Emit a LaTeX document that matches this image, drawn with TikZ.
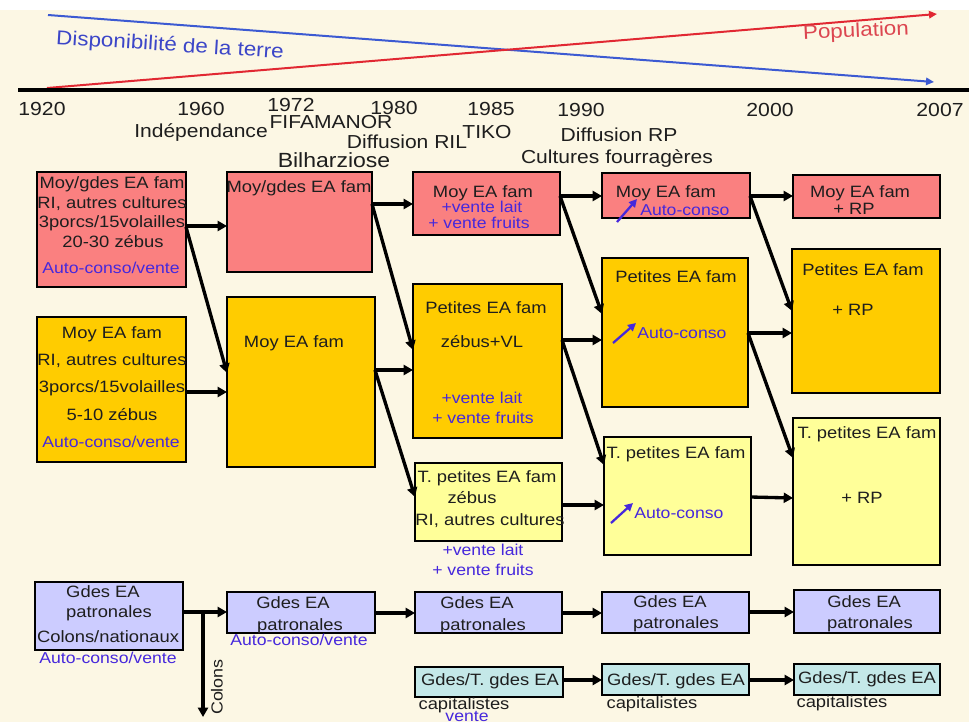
\documentclass[tikz,border=0pt]{standalone}
\usepackage{fontspec}
\setmainfont{Liberation Sans}[FakeStretch=1.12]
\usetikzlibrary{arrows.meta,fit,calc}
\definecolor{bgc}{RGB}{252,247,228}
\definecolor{pinkc}{RGB}{250,128,128}
\definecolor{orangec}{RGB}{255,204,0}
\definecolor{yellowc}{RGB}{255,255,153}
\definecolor{lavc}{RGB}{204,204,255}
\definecolor{tealc}{RGB}{196,232,232}
\definecolor{bluet}{RGB}{70,40,220}
\definecolor{dispc}{RGB}{60,70,200}
\definecolor{linered}{RGB}{225,40,50}
\definecolor{lineblue}{RGB}{60,90,210}
\definecolor{popc}{RGB}{220,70,80}
\definecolor{inkc}{RGB}{30,30,30}
\begin{document}
\begin{tikzpicture}[x=0.75pt,y=-0.75pt,
  bx/.style={draw=black, line width=1.4pt, inner sep=0pt, outer sep=0pt},
  tt/.style={inner sep=0pt, text=inkc, font=\fontsize{12.3}{14}\selectfont, text height=8.8pt, text depth=0pt},
  tb/.style={tt, text=bluet, font=\fontsize{11.8}{14}\selectfont, text height=8.5pt},
  yr/.style={inner sep=0pt, text=inkc, font=\fontsize{14.2}{16}\selectfont, text height=10.2pt, text depth=0pt},
  ev/.style={inner sep=0pt, text=inkc, font=\fontsize{14.1}{16}\selectfont, text height=10.1pt, text depth=0pt},
  arr/.style={line width=2.5pt, -{Triangle[length=7pt,width=7.5pt]}},
  trend/.style={line width=1.5pt},
  ico/.style={line width=1.7pt, draw=bluet, -{Triangle[length=6pt,width=6pt,fill=bluet]}},
]
\useasboundingbox (0,0) rectangle (969,722);
\clip (0,0) rectangle (969,722);
\fill[bgc] (0,0) rectangle (969,722);
\fill[white] (0,0) rectangle (969,10);

% ---- trend lines ----
\coordinate (bs) at (48,15);
\coordinate (be) at (934,82);
\coordinate (rs) at (47,88);
\coordinate (re) at (937,14);
\draw[trend, draw=lineblue, -{Triangle[length=6pt,width=5.5pt,fill=lineblue]}] (bs) -- (be);
\draw[trend, draw=linered, -{Triangle[length=6pt,width=5.5pt,fill=linered]}] (rs) -- (re);
\node[inner sep=0pt, text=dispc, font=\fontsize{15}{17}\selectfont, rotate=-3.6] (disp) at (170,46) {Disponibilité de la terre};
\node[inner sep=0pt, text=popc, font=\fontsize{15}{17}\selectfont, rotate=2.6] (pop) at (856,32) {Population};

% ---- time axis ----
\coordinate (ax1) at (18,90);
\coordinate (ax2) at (969,90);
\draw[line width=2.6pt, black] (ax1) -- (ax2);

\node[yr] (y1920) at (42,109) {1920};
\node[yr] (y1960) at (201,109) {1960};
\node[yr] (y1972) at (291,105) {1972};
\node[yr] (y1980) at (394,108) {1980};
\node[yr] (y1985) at (491,109) {1985};
\node[yr] (y1990) at (581,110) {1990};
\node[yr] (y2000) at (770,110) {2000};
\node[yr] (y2007) at (940,110) {2007};

\node[ev] (indep) at (201,131) {Indépendance};
\node[ev] (fifa) at (331,122) {FIFAMANOR};
\node[ev] (ril) at (407,142) {Diffusion RIL};
\node[ev] (tiko) at (487,132) {TIKO};
\node[ev] (drp) at (619,135) {Diffusion RP};
\node[ev] (cfour) at (617,157) {Cultures fourragères};
\node[inner sep=0pt, text=inkc, font=\fontsize{15.4}{17}\selectfont, text height=11pt, text depth=0pt] (bilh) at (334,160) {Bilharziose};

% ---- boxes ----
\node[bx, fill=pinkc,   fit={(37,172)(186,287)}] (A1) {};
\node[bx, fill=orangec, fit={(37,317)(186,462)}] (A2) {};
\node[bx, fill=pinkc,   fit={(227,172)(372,272)}] (B1) {};
\node[bx, fill=orangec, fit={(227,297)(375,467)}] (B2) {};
\node[bx, fill=pinkc,   fit={(413,172)(560,235)}] (C1) {};
\node[bx, fill=orangec, fit={(413,284)(562,438)}] (C2) {};
\node[bx, fill=yellowc, fit={(415,463)(562,541)}] (C3) {};
\node[bx, fill=pinkc,   fit={(602,173)(750,218)}] (D1) {};
\node[bx, fill=orangec, fit={(602,258)(748,407)}] (D2) {};
\node[bx, fill=yellowc, fit={(604,437)(751,555)}] (D3) {};
\node[bx, fill=pinkc,   fit={(793,175)(940,218)}] (E1) {};
\node[bx, fill=orangec, fit={(792,249)(940,393)}] (E2) {};
\node[bx, fill=yellowc, fit={(793,418)(940,565)}] (E3) {};
\node[bx, fill=lavc,    fit={(35,582)(183,650)}] (F0) {};
\node[bx, fill=lavc,    fit={(227,592)(375,633)}] (F1) {};
\node[bx, fill=lavc,    fit={(415,592)(562,633)}] (F2) {};
\node[bx, fill=lavc,    fit={(602,592)(749,633)}] (F3) {};
\node[bx, fill=lavc,    fit={(794,590)(940,633)}] (F4) {};
\node[bx, fill=tealc,   fit={(415,667)(563,697)}] (G2) {};
\node[bx, fill=tealc,   fit={(602,664)(749,695)}] (G3) {};
\node[bx, fill=tealc,   fit={(794,664)(940,695)}] (G4) {};

% ---- texts ----
\node[tt] (a1a) at (112,183) {Moy/gdes EA fam};
\node[tt] (a1b) at (112,203) {RI, autres cultures};
\node[tt] (a1c) at (112,222) {3porcs/15volailles};
\node[tt] (a1d) at (113,242) {20-30 zébus};
\node[tb] (a1e) at (111,268) {Auto-conso/vente};

\node[tt] (a2a) at (112,333) {Moy EA fam};
\node[tt] (a2b) at (112,360) {RI, autres cultures};
\node[tt] (a2c) at (112,387) {3porcs/15volailles};
\node[tt] (a2d) at (112,415) {5-10 zébus};
\node[tb] (a2e) at (111,442) {Auto-conso/vente};

\node[tt] (b1a) at (299,187) {Moy/gdes EA fam};
\node[tt] (b2a) at (294,342) {Moy EA fam};

\node[tt] (c1a) at (483,192) {Moy EA fam};
\node[tb] (c1b) at (482,207) {+vente lait};
\node[tb] (c1c) at (479,223) {+ vente fruits};

\node[tt] (c2a) at (486,308) {Petites EA fam};
\node[tt] (c2b) at (482,342) {zébus+VL};
\node[tb] (c2c) at (482,398) {+vente lait};
\node[tb] (c2d) at (483,418) {+ vente fruits};

\node[tt] (c3a) at (487,477) {T. petites EA fam};
\node[tt] (c3b) at (472,498) {zébus};
\node[tt] (c3c) at (490,520) {RI, autres cultures};
\node[tb] (c3d) at (483,550) {+vente lait};
\node[tb] (c3e) at (483,570) {+ vente fruits};

\node[tt] (d1a) at (666,192) {Moy EA fam};
\node[tb, anchor=west] (d1b) at (640,210) {Auto-conso};
\node[tt] (d2a) at (676,277) {Petites EA fam};
\node[tb, anchor=west] (d2b) at (637,333) {Auto-conso};
\node[tt] (d3a) at (676,453) {T. petites EA fam};
\node[tb, anchor=west] (d3b) at (634,513) {Auto-conso};

\draw[ico] ($(d1b.west)+(-23,12)$) -- ($(d1b.west)+(-3,-11)$);
\draw[ico] ($(d2b.west)+(-24,10)$) -- ($(d2b.west)+(-1,-10)$);
\draw[ico] ($(d3b.west)+(-23,10)$) -- ($(d3b.west)+(-1,-10)$);

\node[tt] (e1a) at (860,192) {Moy EA fam};
\node[tt] (e1b) at (854,209) {+ RP};
\node[tt] (e2a) at (863,270) {Petites EA fam};
\node[tt] (e2b) at (853,310) {+ RP};
\node[tt] (e3a) at (867,433) {T. petites EA fam};
\node[tt] (e3b) at (862,498) {+ RP};

\node[tt] (f0a) at (103,592) {Gdes EA};
\node[tt] (f0b) at (109,612) {patronales};
\node[tt] (f0c) at (108,637) {Colons/nationaux};
\node[tb] (f0d) at (108,658) {Auto-conso/vente};

\node[tt] (f1a) at (293,603) {Gdes EA};
\node[tt] (f1b) at (300,625) {patronales};
\node[tb] (f1c) at (299,640) {Auto-conso/vente};

\node[tt] (f2a) at (477,603) {Gdes EA};
\node[tt] (f2b) at (483,625) {patronales};
\node[tt] (f3a) at (670,602) {Gdes EA};
\node[tt] (f3b) at (676,623) {patronales};
\node[tt] (f4a) at (864,602) {Gdes EA};
\node[tt] (f4b) at (870,623) {patronales};

\node[tt] (g2a) at (490,680) {Gdes/T. gdes EA};
\node[tt] (g2b) at (464,704) {capitalistes};
\node[tb] (g2c) at (467,716) {vente};
\node[tt] (g3a) at (676,680) {Gdes/T. gdes EA};
\node[tt] (g3b) at (652,703) {capitalistes};
\node[tt] (g4a) at (867,678) {Gdes/T. gdes EA};
\node[tt] (g4b) at (842,702) {capitalistes};

% ---- connectors ----
\draw[arr] ($(A1.north east)+(0,54)$) -- ($(B1.north west)+(0,54)$);
\draw[arr] ($(A1.north east)+(0,55)$) -- ($(B2.north west)+(0,76)$);
\draw[arr] ($(A2.north east)+(0,75)$) -- ($(B2.north west)+(0,95)$);

\draw[arr] ($(B1.north east)+(0,32)$) -- ($(C1.north west)+(0,32)$);
\draw[arr] ($(B1.north east)+(0,32)$) -- ($(C2.north west)+(0,66)$);
\draw[arr] ($(B2.north east)+(0,73)$) -- ($(C2.north west)+(0,86)$);
\draw[arr] ($(B2.north east)+(0,73)$) -- ($(C3.north west)+(0,34)$);

\draw[arr] ($(C1.north east)+(0,24)$) -- ($(D1.north west)+(0,23)$);
\draw[arr] ($(C1.north east)+(0,24)$) -- ($(D2.north west)+(0,56)$);
\draw[arr] ($(C2.north east)+(0,56)$) -- ($(D2.north west)+(0,82)$);
\draw[arr] ($(C2.north east)+(0,56)$) -- ($(D3.north west)+(0,28)$);
\draw[arr] ($(C3.north east)+(0,42)$) -- ($(D3.north west)+(0,68)$);

\draw[arr] ($(D1.north east)+(0,23)$) -- ($(E1.north west)+(0,21)$);
\draw[arr] ($(D1.north east)+(0,23)$) -- ($(E2.north west)+(0,62)$);
\draw[arr] ($(D2.north east)+(0,75)$) -- ($(E2.north west)+(0,84)$);
\draw[arr] ($(D2.north east)+(0,75)$) -- ($(E3.north west)+(0,40)$);
\draw[arr] ($(D3.north east)+(0,60)$) -- ($(E3.north west)+(0,80)$);

\draw[arr] ($(F0.north east)+(0,30)$) -- ($(F1.north west)+(0,20)$);
\coordinate (br) at ($(F0.north east)+(20,30)$);
\coordinate (brend) at ($(F0.north east)+(20,135)$);
\draw[arr] (br) -- (brend);
\node[inner sep=0pt, text=inkc, font=\fontsize{12}{14}\selectfont, rotate=90] (colons) at (217,687) {Colons};

\draw[arr] ($(F1.north east)+(0,21)$) -- ($(F2.north west)+(0,21)$);
\draw[arr] ($(F2.north east)+(0,21)$) -- ($(F3.north west)+(0,21)$);
\draw[arr] ($(F3.north east)+(0,20)$) -- ($(F4.north west)+(0,22)$);
\draw[arr] ($(G2.north east)+(0,13)$) -- ($(G3.north west)+(0,16)$);
\draw[arr] ($(G3.north east)+(0,16)$) -- ($(G4.north west)+(0,16)$);
\end{tikzpicture}
\end{document}
